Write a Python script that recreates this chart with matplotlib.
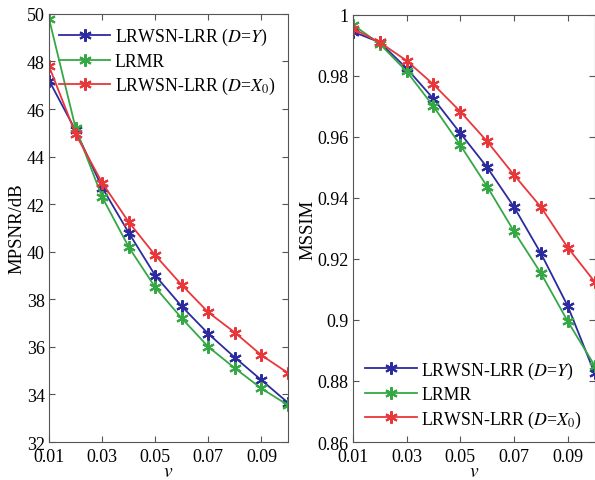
import matplotlib
matplotlib.use("Agg")
import matplotlib.pyplot as plt

plt.rcParams['font.family'] = ['Liberation Serif', 'DejaVu Serif']
plt.rcParams['mathtext.fontset'] = 'stix'
plt.rcParams['font.size'] = 11

# noise level
v = [0.01, 0.02, 0.03, 0.04, 0.05, 0.06, 0.07, 0.08, 0.09, 0.10]

# MPSNR values (dB)
mpsnr_dy = [47.2, 45.1, 42.7, 40.8, 39.0, 37.7, 36.55, 35.55, 34.6, 33.65]
mpsnr_lrmr = [49.8, 45.2, 42.3, 40.2, 38.5, 37.2, 36.0, 35.1, 34.25, 33.55]
mpsnr_dx0 = [47.8, 44.95, 42.9, 41.25, 39.85, 38.6, 37.45, 36.6, 35.65, 34.9]

# MSSIM values
mssim_dy = [0.9945, 0.991, 0.9825, 0.9725, 0.9612, 0.950, 0.937, 0.9218, 0.9045, 0.8825]
mssim_lrmr = [0.9968, 0.9905, 0.9815, 0.970, 0.9573, 0.9437, 0.929, 0.9153, 0.8995, 0.885]
mssim_dx0 = [0.9955, 0.991, 0.985, 0.9772, 0.9683, 0.9585, 0.9475, 0.937, 0.9237, 0.9125]

labels = [r'LRWSN-LRR ($D$=$Y$)', 'LRMR', r'LRWSN-LRR ($D$=$X_0$)']
colors = ['#2b2b9e', '#35a845', '#e8373a']
xticks = [0.01, 0.03, 0.05, 0.07, 0.09]
xticklabels = ['0.01', '0.03', '0.05', '0.07', '0.09']

fig = plt.figure(figsize=(5.95, 4.81), dpi=100)
ax1 = fig.add_axes([0.0824, 0.079, 0.4017, 0.890])
ax2 = fig.add_axes([0.593, 0.079, 0.4065, 0.888])

marker = (6, 2, 0)


def draw(ax, series, ylim, yticks, yticklabels, ylabel, legloc, bbox):
    for ys, c, lab in zip(series, colors, labels):
        ax.plot(v, ys, color=c, lw=1.3, marker=marker, ms=9, mew=1.5, label=lab)
    ax.set_xlim(0.01, 0.10)
    ax.set_ylim(*ylim)
    ax.set_xticks(xticks)
    ax.set_xticklabels(xticklabels)
    ax.set_yticks(yticks)
    ax.set_yticklabels(yticklabels)
    ax.tick_params(direction='in', top=True, right=True, length=4, labelsize=13,
                   color='#555555')
    ax.tick_params(axis='x', pad=4.5)
    ax.tick_params(axis='y', pad=3)
    for s in ax.spines.values():
        s.set_color('#555555')
    ax.set_xlabel(r'$v$', fontsize=14, labelpad=-1.5)
    ax.set_ylabel(ylabel, fontsize=13.5, labelpad=1)
    leg = ax.legend(loc=legloc, bbox_to_anchor=bbox, frameon=False, fontsize=12.8,
                    handlelength=2.9, handletextpad=0.25, labelspacing=0.3,
                    borderaxespad=0.3)
    return leg


draw(ax1, [mpsnr_dy, mpsnr_lrmr, mpsnr_dx0], (32, 50), list(range(32, 51, 2)),
     [str(t) for t in range(32, 51, 2)], 'MPSNR/dB', 'upper right', (1.0, 1.0))

mticks = [0.86, 0.88, 0.90, 0.92, 0.94, 0.96, 0.98, 1.0]
draw(ax2, [mssim_dy, mssim_lrmr, mssim_dx0], (0.86, 1.0), mticks,
     ['%g' % t for t in mticks], 'MSSIM', 'lower left', (0.0, 0.0))

fig.savefig('out.png', dpi=100)
